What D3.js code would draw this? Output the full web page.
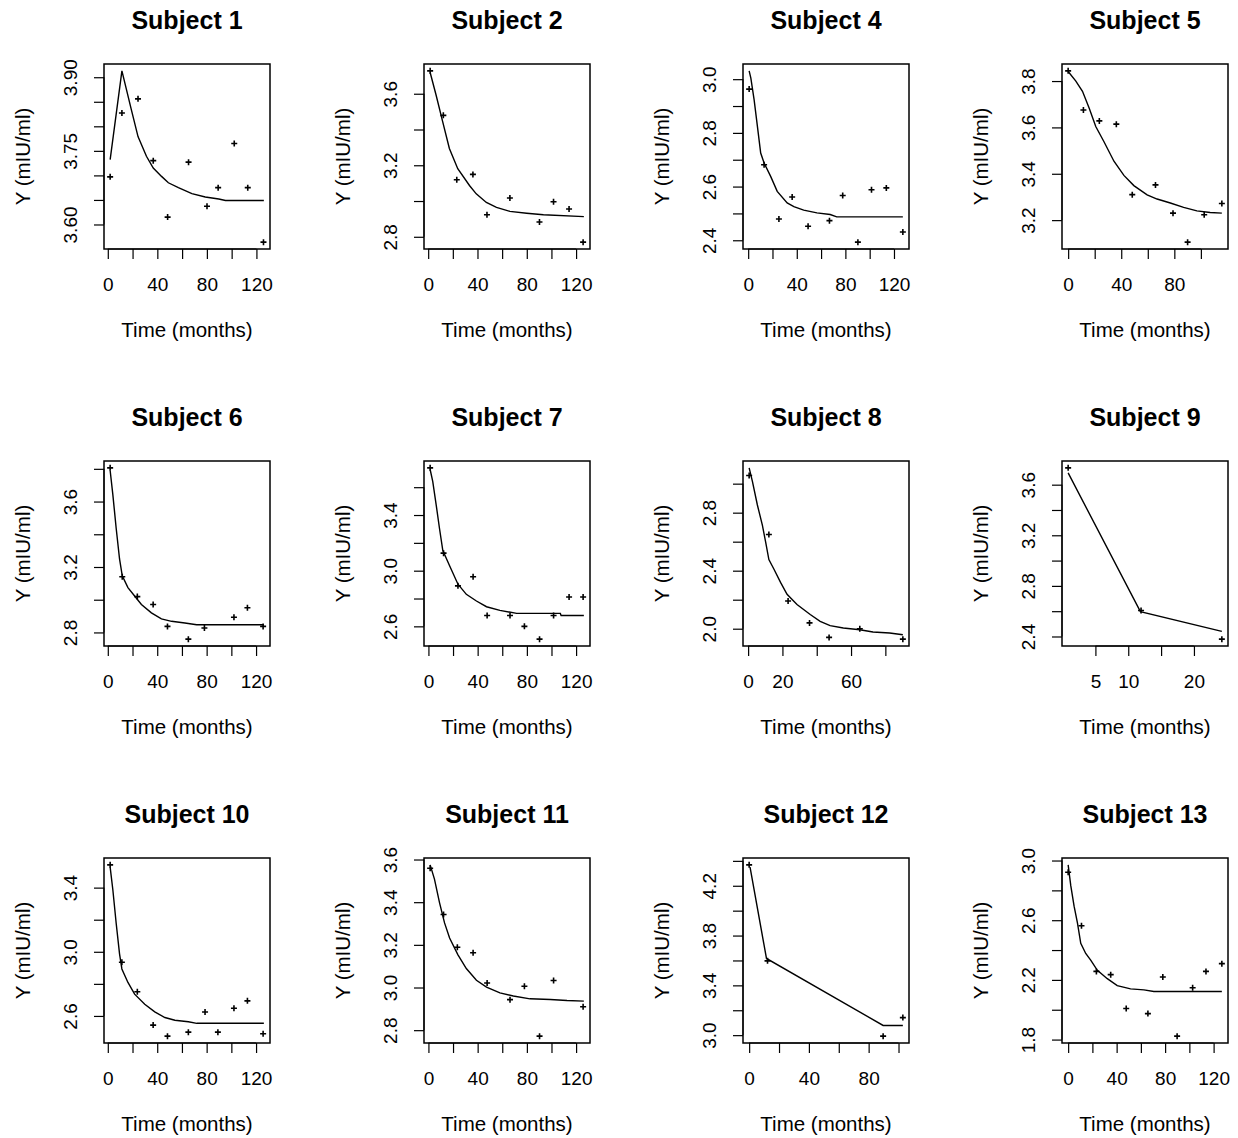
<!DOCTYPE html>
<html>
<head>
<meta charset="utf-8">
<script src="https://cdn.jsdelivr.net/npm/d3@7"></script>
<style>
  body { margin: 0; background: #fff; }
  svg { display: block; font-family: "Liberation Sans", Arial, sans-serif; }
</style>
</head>
<body>
<div id="chart"></div>
<script>
// Observed values [time, Y] and fitted curve [time, Y] per subject
const s1Obs = [[1.9,3.697],[11.4,3.827],[24.4,3.856],[36.7,3.730],[48.3,3.615],[65.2,3.727],[80.1,3.637],[89.1,3.675],[102.1,3.765],[113,3.675],[125.7,3.564]]
const s1Fit = [[1.9,3.732],[11.4,3.913],[19,3.834],[24.4,3.779],[31.2,3.739],[36.7,3.715],[43.4,3.698],[48.9,3.685],[57,3.675],[67.9,3.663],[78.7,3.656],[89.6,3.652],[95,3.649],[126,3.649]]

const s2Obs = [[1.6,3.728],[12.3,3.479],[23.2,3.119],[36.3,3.149],[47.7,2.923],[66.3,3.017],[90.3,2.883],[101.7,2.996],[114.3,2.955],[125.7,2.770]]
const s2Fit = [[1.6,3.719],[6.3,3.596],[11.7,3.445],[17.2,3.294],[24,3.181],[33.5,3.087],[39,3.040],[47.2,2.992],[55.4,2.964],[66.3,2.942],[79.9,2.932],[93.5,2.923],[126.3,2.913]]

const s4Obs = [[0.8,2.963],[13.1,2.681],[25.3,2.479],[36.2,2.561],[49.3,2.452],[66.9,2.473],[77.8,2.567],[90.3,2.393],[101.5,2.588],[113.7,2.595],[127.3,2.431]]
const s4Fit = [[0.8,3.031],[2.2,3.004],[4.9,2.923],[7.6,2.824],[10.3,2.725],[13.1,2.688],[18.5,2.638],[23.9,2.582],[32.1,2.539],[37.6,2.525],[45.7,2.512],[56.6,2.502],[67.5,2.496],[72.9,2.487],[127.3,2.487]]

const s5Obs = [[0,3.844],[11.5,3.675],[23.5,3.628],[36.3,3.614],[48.3,3.310],[65.8,3.352],[79,3.230],[90,3.105],[102.5,3.223],[115.8,3.272]]
const s5Fit = [[0,3.841],[5.8,3.8],[10.8,3.756],[15.8,3.684],[20.8,3.604],[27,3.538],[34.5,3.454],[42,3.393],[49.5,3.349],[59.5,3.309],[67,3.291],[77,3.274],[87,3.255],[97,3.240],[107,3.233],[115.8,3.230]]

const s6Obs = [[1.9,3.806],[11.7,3.140],[23.9,3.019],[36.7,2.971],[48.3,2.837],[65.2,2.759],[78.2,2.827],[102.1,2.893],[113,2.951],[125.7,2.837]]
const s6Fit = [[1.9,3.790],[4.1,3.641],[6.8,3.435],[9.5,3.249],[11.7,3.146],[16.3,3.074],[21.7,3.023],[27.2,2.971],[35.3,2.920],[43.4,2.883],[51.6,2.868],[62.4,2.858],[71.9,2.847],[126.3,2.847]]

const s7Obs = [[1.4,3.739],[12.3,3.126],[24,2.891],[36.3,2.956],[47.7,2.678],[66.3,2.678],[78,2.600],[90.3,2.508],[101.7,2.678],[114.3,2.811],[125.7,2.811]]
const s7Fit = [[1.4,3.727],[3.5,3.642],[6.3,3.473],[9,3.303],[11.7,3.145],[17.2,3.036],[24,2.903],[30.8,2.830],[39,2.782],[47.2,2.741],[58.1,2.715],[71.7,2.693],[107.2,2.693],[107.8,2.678],[126.3,2.678]]

const s8Obs = [[0.6,3.056],[12.1,2.649],[23.3,2.191],[35.8,2.040],[47.2,1.940],[65.1,2.0],[90.2,1.928]]
const s8Fit = [[0.6,3.109],[2.5,3.016],[5.4,2.853],[8.3,2.714],[10.2,2.598],[12.1,2.477],[15,2.412],[18.9,2.319],[22.7,2.237],[28.5,2.167],[36.2,2.098],[42,2.051],[47.8,2.021],[55.5,2.005],[65.1,1.993],[72.8,1.977],[82.5,1.970],[90.2,1.958]]

const s9Obs = [[0.85,3.733],[11.95,2.605],[24.25,2.379]]
const s9Fit = [[0.85,3.693],[11.85,2.596],[24.25,2.440]]

const s10Obs = [[1.9,3.542],[11.4,2.935],[23.9,2.751],[36.7,2.543],[48.3,2.474],[65.2,2.499],[78.7,2.625],[89.1,2.499],[102.1,2.648],[113,2.694],[125.7,2.489]]
const s10Fit = [[1.9,3.528],[4.1,3.385],[6.8,3.176],[9.5,2.987],[11.4,2.893],[16.3,2.809],[21.7,2.736],[29.9,2.673],[38,2.625],[46.2,2.590],[54.3,2.573],[65.2,2.564],[72,2.554],[126.3,2.554]]

const s11Obs = [[1.4,3.559],[12.3,3.342],[23.5,3.189],[36.3,3.163],[47.7,3.021],[66.3,2.943],[78,3.006],[90.3,2.772],[101.7,3.033],[125.7,2.910]]
const s11Fit = [[1.4,3.575],[4.9,3.508],[9,3.398],[13.1,3.303],[17.2,3.232],[24,3.153],[30.8,3.089],[39,3.034],[47.2,3.002],[58.1,2.975],[69,2.960],[82.6,2.947],[99,2.944],[112.6,2.939],[126.3,2.936]]

const s12Obs = [[0,4.368],[12.3,3.597],[89.7,2.992],[102.9,3.141]]
const s12Fit = [[0.6,4.349],[11.6,3.616],[89.7,3.078],[102.9,3.078]]

const s13Obs = [[0,2.921],[11,2.563],[23.3,2.257],[35.1,2.235],[47.9,2.008],[65.8,1.974],[78.1,2.219],[89.9,1.823],[102.7,2.147],[113.7,2.257],[126.8,2.309]]
const s13Fit = [[0,2.971],[2.2,2.830],[4.9,2.694],[7.7,2.581],[10.4,2.445],[14.5,2.377],[18.6,2.332],[24.1,2.264],[32.3,2.208],[40.5,2.162],[51.5,2.140],[62.5,2.133],[70.7,2.122],[126.8,2.122]]

const titles = ["Subject 1","Subject 2","Subject 4","Subject 5","Subject 6","Subject 7","Subject 8","Subject 9","Subject 10","Subject 11","Subject 12","Subject 13"]
const observed = [s1Obs, s2Obs, s4Obs, s5Obs, s6Obs, s7Obs, s8Obs, s9Obs, s10Obs, s11Obs, s12Obs, s13Obs]
const fitted = [s1Fit, s2Fit, s4Fit, s5Fit, s6Fit, s7Fit, s8Fit, s9Fit, s10Fit, s11Fit, s12Fit, s13Fit]

// tick marks and which of them carry a label (R drops crowded labels)
const t120 = [0,20,40,60,80,100,120]
const t100 = [0,20,40,60,80,100]
const xTicks = [t120, t120, t120, t100, t120, t120, [0,20,40,60,80], [5,10,15,20], t120, t120, t100, t120]
const xLabels = [[0,40,80,120],[0,40,80,120],[0,40,80,120],[0,40,80],[0,40,80,120],[0,40,80,120],[0,20,60],[5,10,20],[0,40,80,120],[0,40,80,120],[0,40,80],[0,40,80,120]]

const yTicks = [
  [3.60,3.65,3.70,3.75,3.80,3.85,3.90],
  [2.8,3.0,3.2,3.4,3.6],
  [2.4,2.5,2.6,2.7,2.8,2.9,3.0],
  [3.2,3.4,3.6,3.8],
  [2.8,3.0,3.2,3.4,3.6,3.8],
  [2.6,2.8,3.0,3.2,3.4,3.6],
  [2.0,2.2,2.4,2.6,2.8,3.0],
  [2.4,2.6,2.8,3.0,3.2,3.4,3.6],
  [2.6,2.8,3.0,3.2,3.4],
  [2.8,3.0,3.2,3.4,3.6],
  [3.0,3.2,3.4,3.6,3.8,4.0,4.2,4.4],
  [1.8,2.0,2.2,2.4,2.6,2.8,3.0]
]
const yLabels = [
  [3.60,3.75,3.90],
  [2.8,3.2,3.6],
  [2.4,2.6,2.8,3.0],
  [3.2,3.4,3.6,3.8],
  [2.8,3.2,3.6],
  [2.6,3.0,3.4],
  [2.0,2.4,2.8],
  [2.4,2.8,3.2,3.6],
  [2.6,3.0,3.4],
  [2.8,3.0,3.2,3.4,3.6],
  [3.0,3.4,3.8,4.2],
  [1.8,2.2,2.6,3.0]
]
const yDigits = [2,1,1,1,1,1,1,1,1,1,1,1]

// Layout
const width = 1238
const height = 1138
const colLeft = [104, 424, 743, 1062]
const rowTop = [64, 461, 858]
const boxW = 166
const boxH = 185
const tickLen = 10

const svg = d3.select("#chart")
  .append("svg")
    .attr("width", width)
    .attr("height", height)

svg.append("rect")
  .attr("width", width)
  .attr("height", height)
  .attr("fill", "#fff")

// R style axis range: data extent padded by 4% each side
function paddedExtent(values) {
  const [lo, hi] = d3.extent(values)
  const pad = (hi - lo) * 0.04
  return [lo - pad, hi + pad]
}

titles.forEach((title, i) => {
  const left = colLeft[i % 4]
  const top = rowTop[Math.floor(i / 4)]
  const obs = observed[i]
  const fit = fitted[i]
  const all = obs.concat(fit)

  const xScale = d3.scaleLinear()
    .domain(paddedExtent(all.map(d => d[0])))
    .range([0, boxW])
  const yScale = d3.scaleLinear()
    .domain(paddedExtent(all.map(d => d[1])))
    .range([boxH, 0])

  const panel = svg.append("g")
    .attr("transform", `translate(${left},${top})`)

  // fitted curve
  const lineGen = d3.line()
    .x(d => xScale(d[0]))
    .y(d => yScale(d[1]))
  panel.append("path")
    .datum(fit)
    .attr("d", lineGen)
    .attr("fill", "none")
    .attr("stroke", "#000")
    .attr("stroke-width", 1.4)

  // observed points as small crosses
  panel.selectAll(".pt")
    .data(obs)
    .join("path")
      .attr("class", "pt")
      .attr("d", d => {
        const cx = xScale(d[0]), cy = yScale(d[1])
        return `M${cx - 3},${cy}h6M${cx},${cy - 3}v6`
      })
      .attr("stroke", "#000")
      .attr("stroke-width", 1.6)

  // x axis
  const xLab = xLabels[i]
  const xAxis = panel.append("g")
    .attr("transform", `translate(0,${boxH})`)
    .call(d3.axisBottom(xScale)
      .tickValues(xTicks[i])
      .tickSize(tickLen)
      .tickFormat(d => xLab.includes(d) ? d3.format("d")(d) : ""))
  xAxis.select(".domain").remove()
  xAxis.append("line")
    .attr("x1", xScale(xTicks[i][0]))
    .attr("x2", xScale(xTicks[i][xTicks[i].length - 1]))
    .attr("stroke", "#000")
  xAxis.selectAll(".tick line").attr("stroke-width", 1.2)
  xAxis.selectAll(".tick text")
    .attr("y", 42)
    .attr("dy", 0)
    .attr("fill", "#000")
    .style("font-size", "19px")
    .style("font-family", "Liberation Sans, Arial, sans-serif")

  // y axis, labels rotated like R's las = 0
  const yLab = yLabels[i]
  const yFmt = d3.format(`.${yDigits[i]}f`)
  const yAxis = panel.append("g")
    .call(d3.axisLeft(yScale)
      .tickValues(yTicks[i])
      .tickSize(tickLen)
      .tickFormat(d => yLab.some(v => Math.abs(v - d) < 1e-9) ? yFmt(d) : ""))
  yAxis.select(".domain").remove()
  yAxis.append("line")
    .attr("y1", yScale(yTicks[i][0]))
    .attr("y2", yScale(yTicks[i][yTicks[i].length - 1]))
    .attr("stroke", "#000")
  yAxis.selectAll(".tick line").attr("stroke-width", 1.2)
  yAxis.selectAll(".tick text")
    .attr("x", 0)
    .attr("y", -27)
    .attr("dy", 0)
    .attr("transform", "rotate(-90)")
    .attr("text-anchor", "middle")
    .attr("fill", "#000")
    .style("font-size", "19px")
    .style("font-family", "Liberation Sans, Arial, sans-serif")

  // frame
  panel.append("rect")
    .attr("width", boxW)
    .attr("height", boxH)
    .attr("fill", "none")
    .attr("stroke", "#000")
    .attr("stroke-width", 1.5)

  // titles
  panel.append("text")
    .attr("x", boxW / 2)
    .attr("y", -35)
    .attr("text-anchor", "middle")
    .attr("font-weight", "bold")
    .style("font-size", "25px")
    .text(title)

  panel.append("text")
    .attr("x", boxW / 2)
    .attr("y", boxH + 88)
    .attr("text-anchor", "middle")
    .style("font-size", "20.5px")
    .text("Time (months)")

  panel.append("text")
    .attr("transform", `translate(-74,${boxH / 2}) rotate(-90)`)
    .attr("text-anchor", "middle")
    .style("font-size", "20.5px")
    .text("Y (mIU/ml)")
})
</script>
</body>
</html>
